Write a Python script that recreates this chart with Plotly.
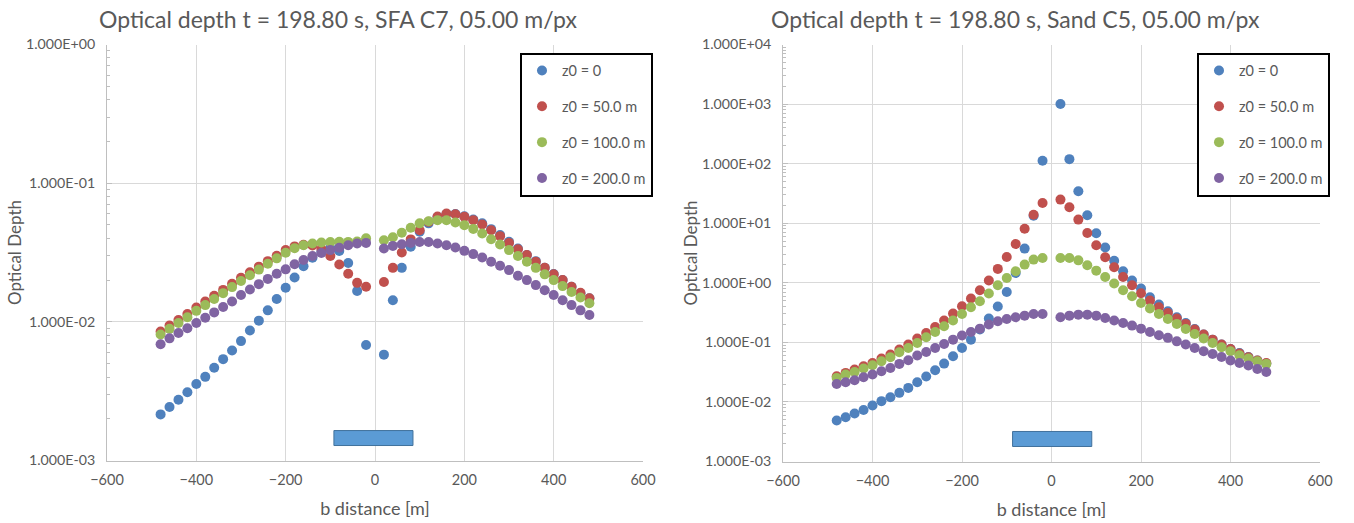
import plotly.graph_objects as go

# b distance [m] of each sample (no sample at b = 0)
b_distance = [-480, -460, -440, -420, -400, -380, -360, -340, -320, -300, -280, -260,
              -240, -220, -200, -180, -160, -140, -120, -100, -80, -60, -40, -20,
              20, 40, 60, 80, 100, 120, 140, 160, 180, 200, 220, 240, 260, 280,
              300, 320, 340, 360, 380, 400, 420, 440, 460, 480]

series_names = ["z0 = 0", "z0 = 50.0 m", "z0 = 100.0 m", "z0 = 200.0 m"]
series_colors = ["#4F81BD", "#C0504D", "#9BBB59", "#8064A2"]

# Optical depth, SFA C7
sfa_z0_0 = [0.00215, 0.00243, 0.00274, 0.00311, 0.00356, 0.00401, 0.00466, 0.00538, 0.00622, 0.00726,
            0.00867, 0.0102, 0.0121, 0.0146, 0.0176, 0.0209, 0.0252, 0.0290, 0.0320, 0.0340, 0.0324,
            0.0266, 0.0167, 0.0068,
            0.0058, 0.0143, 0.0245, 0.0348, 0.0446, 0.0513, 0.0570, 0.0600, 0.0600, 0.0578, 0.0547,
            0.0513, 0.0466, 0.0422, 0.0378, 0.0338, 0.0303, 0.0274, 0.0245, 0.0221, 0.0200, 0.0179,
            0.0160, 0.0148]
sfa_z0_50 = [0.0085, 0.0094, 0.0103, 0.0114, 0.0127, 0.0140, 0.0154, 0.0170, 0.0188, 0.0208, 0.0228,
             0.0250, 0.0274, 0.0300, 0.0330, 0.0350, 0.0360, 0.0355, 0.0335, 0.0298, 0.0259, 0.0222,
             0.0191, 0.0179,
             0.0194, 0.0245, 0.0316, 0.0393, 0.0458, 0.0526, 0.0575, 0.0604, 0.0597, 0.0572, 0.0541,
             0.0504, 0.0458, 0.0415, 0.0371, 0.0334, 0.0303, 0.0271, 0.0245, 0.0220, 0.0200, 0.0179,
             0.0162, 0.0148]
sfa_z0_100 = [0.0081, 0.0089, 0.0098, 0.0108, 0.0120, 0.0132, 0.0146, 0.0161, 0.0178, 0.0197, 0.0217,
              0.0238, 0.0262, 0.0287, 0.0315, 0.0340, 0.0357, 0.0367, 0.0373, 0.0376, 0.0378, 0.0377,
              0.0380, 0.0400,
              0.0388, 0.0407, 0.0439, 0.0477, 0.0513, 0.0532, 0.0541, 0.0540, 0.0521, 0.0498, 0.0468,
              0.0433, 0.0394, 0.0361, 0.0329, 0.0298, 0.0271, 0.0245, 0.0220, 0.0200, 0.0181, 0.0164,
              0.0150, 0.0136]
sfa_z0_200 = [0.0069, 0.0076, 0.0083, 0.0090, 0.0098, 0.0107, 0.0117, 0.0128, 0.0140, 0.0156, 0.0171,
              0.0187, 0.0204, 0.0222, 0.0239, 0.0260, 0.0279, 0.0298, 0.0314, 0.0329, 0.0342, 0.0357,
              0.0367, 0.0371,
              0.0338, 0.0353, 0.0363, 0.0371, 0.0376, 0.0376, 0.0367, 0.0357, 0.0344, 0.0325, 0.0308,
              0.0291, 0.0271, 0.0254, 0.0236, 0.0215, 0.0200, 0.0184, 0.0169, 0.0156, 0.0143, 0.0132,
              0.0121, 0.0112]

# Optical depth, Sand C5
sand_z0_0 = [0.00488, 0.00553, 0.00638, 0.00734, 0.0087, 0.0103, 0.0120, 0.0142, 0.0172, 0.0214, 0.0267,
             0.0340, 0.0440, 0.0585, 0.0805, 0.111, 0.164, 0.251, 0.40, 0.70, 1.46, 3.75, 13.4, 112.0,
             1000.0, 119.0, 34.3, 13.6, 6.8, 3.9, 2.35, 1.56, 1.09, 0.80, 0.571, 0.43, 0.333, 0.264,
             0.212, 0.168, 0.135, 0.111, 0.0918, 0.0775, 0.0664, 0.0569, 0.0495, 0.0440]
sand_z0_50 = [0.0270, 0.0307, 0.0350, 0.0397, 0.0451, 0.0535, 0.0624, 0.0757, 0.0918, 0.116, 0.144,
              0.181, 0.232, 0.304, 0.404, 0.543, 0.748, 1.09, 1.71, 2.71, 4.48, 8.1, 13.9, 21.8,
              24.9, 18.5, 11.5, 6.86, 4.26, 2.68, 1.82, 1.25, 0.908, 0.667, 0.502, 0.388, 0.311,
              0.251, 0.204, 0.164, 0.135, 0.111, 0.0918, 0.0775, 0.0648, 0.0562, 0.0495, 0.0451]
sand_z0_100 = [0.0253, 0.0288, 0.0318, 0.0363, 0.0413, 0.0482, 0.0562, 0.0683, 0.0805, 0.0977, 0.122,
               0.149, 0.186, 0.232, 0.300, 0.388, 0.49, 0.659, 0.908, 1.2, 1.56, 2.02, 2.45, 2.61,
               2.61, 2.61, 2.38, 1.97, 1.6, 1.25, 0.97, 0.748, 0.593, 0.458, 0.369, 0.300, 0.247,
               0.204, 0.168, 0.138, 0.116, 0.0977, 0.0828, 0.0710, 0.0608, 0.0535, 0.0482, 0.0435]
sand_z0_200 = [0.0200, 0.0214, 0.0231, 0.0259, 0.0288, 0.0327, 0.0372, 0.0435, 0.0501, 0.0600, 0.0690,
               0.0805, 0.0940, 0.111, 0.130, 0.149, 0.170, 0.199, 0.226, 0.247, 0.264, 0.281, 0.300,
               0.300,
               0.264, 0.281, 0.292, 0.292, 0.281, 0.257, 0.232, 0.212, 0.191, 0.170, 0.149, 0.132,
               0.119, 0.104, 0.0918, 0.0805, 0.0710, 0.0638, 0.0569, 0.0495, 0.0451, 0.0408, 0.0358,
               0.0318]

panel_titles = ["Optical depth t = 198.80 s, SFA C7, 05.00 m/px",
                "Optical depth t = 198.80 s, Sand C5, 05.00 m/px"]

x_ticks = [-600, -400, -200, 0, 200, 400, 600]
left_y_ticks = [0.001, 0.01, 0.1, 1.0]
left_y_labels = ["1.000E-03", "1.000E-02", "1.000E-01", "1.000E+00"]
right_y_ticks = [0.001, 0.01, 0.1, 1.0, 10.0, 100.0, 1000.0, 10000.0]
right_y_labels = ["1.000E-03", "1.000E-02", "1.000E-01", "1.000E+00",
                  "1.000E+01", "1.000E+02", "1.000E+03", "1.000E+04"]

# Extent of the source strip drawn under the curves [m]
source_left = [-92, 85]
source_right = [-87, 90]

FONT = "Lato, 'Open Sans', sans-serif"
TEXT = "#595959"
GRID = "#d9d9d9"
AXIS = "#bfbfbf"
W, H = 1354, 523

fig = go.Figure()

panels = [
    ("x", "y", "legend", [sfa_z0_0, sfa_z0_50, sfa_z0_100, sfa_z0_200]),
    ("x2", "y2", "legend2", [sand_z0_0, sand_z0_50, sand_z0_100, sand_z0_200]),
]
for xa, ya, lg, data in panels:
    for name, color, vals in zip(series_names, series_colors, data):
        fig.add_trace(go.Scatter(
            x=b_distance, y=vals, mode="markers", name=name,
            marker=dict(color=color, size=10, line=dict(width=0)),
            xaxis=xa, yaxis=ya, legend=lg, legendgroup=lg + name,
        ))

# plot-area pixel boxes (left, right, top, bottom)
left_box = (107, 643, 44.5, 460.5)
right_box = (783, 1320, 44.5, 461.5)
# chart-area centres used for the titles
title_centres = [338, 1015]


def dom_x(box):
    return [box[0] / W, box[1] / W]


def dom_y(box):
    return [1 - box[3] / H, 1 - box[2] / H]


xaxis_common = dict(
    range=[-600, 600], tickvals=x_ticks, ticks="", showgrid=True, gridcolor=GRID,
    gridwidth=1, showline=True, linecolor=AXIS, linewidth=1, zeroline=False,
    automargin=False,
    tickfont=dict(family=FONT, size=14.5, color=TEXT), ticklabelstandoff=6,
    title=dict(text="b distance [m]", font=dict(family=FONT, size=18, color=TEXT), standoff=15),
)
yaxis_common = dict(
    type="log", showgrid=True, gridcolor=GRID, gridwidth=1, showline=True,
    linecolor=AXIS, linewidth=1, zeroline=False, ticks="inside", ticklen=5,
    automargin=False,
    tickcolor=AXIS, tickfont=dict(family=FONT, size=14.2, color=TEXT),
    ticklabelstandoff=8,
    minor=dict(ticks="inside", ticklen=3, tickcolor=AXIS, dtick="D1", showgrid=False),
    title=dict(text="Optical Depth", font=dict(family=FONT, size=17, color=TEXT), standoff=0),
)

fig.update_layout(
    width=W, height=H, margin=dict(l=0, r=0, t=0, b=0, autoexpand=False),
    paper_bgcolor="white", plot_bgcolor="white", showlegend=True,
    xaxis=dict(domain=dom_x(left_box), anchor="y", **xaxis_common),
    yaxis=dict(domain=dom_y(left_box), anchor="x", range=[-3, 0],
               tickvals=left_y_ticks, ticktext=left_y_labels, **yaxis_common),
    xaxis2=dict(domain=dom_x(right_box), anchor="y2", **xaxis_common),
    yaxis2=dict(domain=dom_y(right_box), anchor="x2", range=[-3, 4],
                tickvals=right_y_ticks, ticktext=right_y_labels, **yaxis_common),
)

legend_style = dict(
    bgcolor="white", bordercolor="#000000", borderwidth=2,
    font=dict(family=FONT, size=14.5, color=TEXT), tracegroupgap=14,
    itemwidth=30, xanchor="left", yanchor="top", y=1 - 52.5 / H,
)
fig.update_layout(
    legend=dict(x=520 / W, **legend_style),
    legend2=dict(x=1197 / W, **legend_style),
)

# panel titles
for title, cx in zip(panel_titles, title_centres):
    fig.add_annotation(
        text=title, xref="paper", yref="paper",
        x=cx / W, y=1 - 19 / H, xanchor="center", yanchor="middle",
        showarrow=False, font=dict(family=FONT, size=23, color=TEXT),
    )

# source strip
for (x0, x1), xr, yr in [(source_left, "x", "y domain"), (source_right, "x2", "y2 domain")]:
    fig.add_shape(
        type="rect", xref=xr, yref=yr, x0=x0, x1=x1, y0=0.036, y1=0.072,
        fillcolor="#5B9BD5", line=dict(color="#41719C", width=1), layer="above",
    )

fig.write_html("out.html")
